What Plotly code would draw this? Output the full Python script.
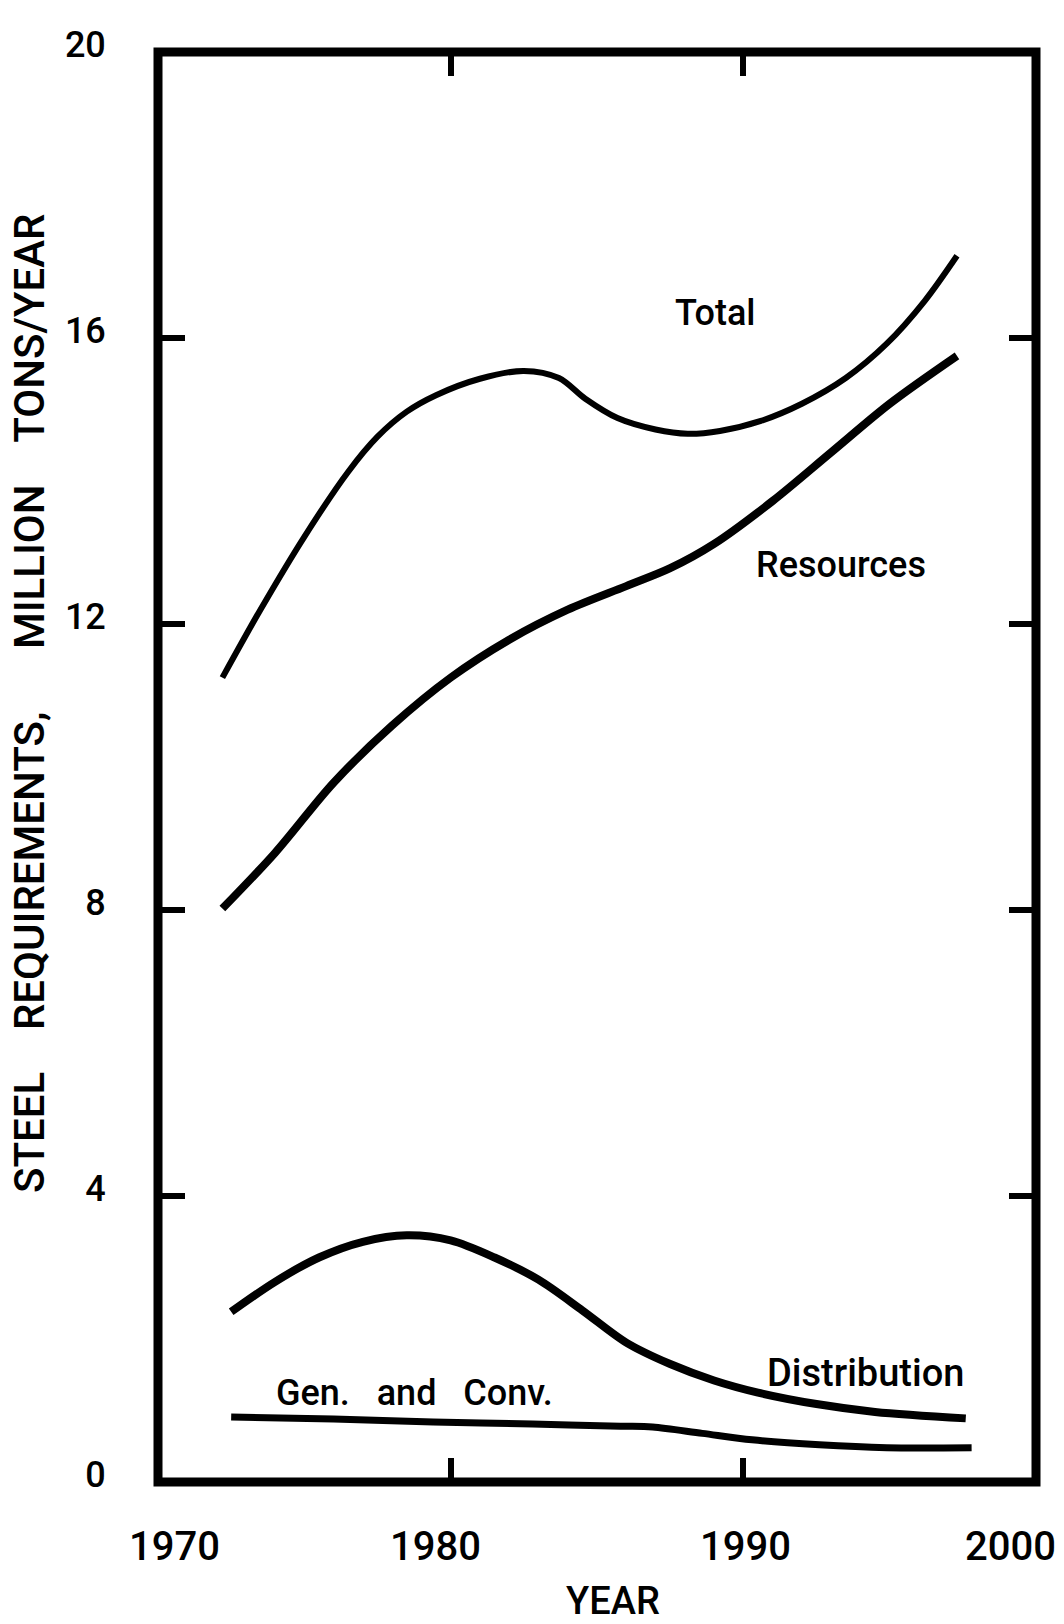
import plotly.graph_objects as go

# Steel requirements by sector, million tons per year
years_total = [1972.2, 1973.5, 1975.0, 1976.5, 1977.5, 1978.5, 1979.5, 1981.0, 1982.5, 1983.7,
               1984.6, 1985.7, 1987.0, 1988.1, 1989.2, 1990.6, 1992.0, 1993.5, 1994.9, 1996.2,
               1997.3]
total = [11.25, 12.20, 13.22, 14.13, 14.62, 14.97, 15.20, 15.43, 15.54, 15.44,
         15.15, 14.88, 14.72, 14.66, 14.70, 14.84, 15.08, 15.44, 15.92, 16.52,
         17.15]

years_resources = [1972.2, 1974.0, 1976.0, 1978.0, 1980.0, 1982.0, 1984.0, 1986.0, 1987.5,
                   1989.0, 1991.0, 1993.0, 1995.0, 1997.3]
resources = [8.02, 8.80, 9.78, 10.58, 11.25, 11.78, 12.20, 12.53, 12.78,
             13.12, 13.72, 14.40, 15.08, 15.75]

years_distribution = [1972.5, 1974.0, 1975.5, 1977.0, 1978.5, 1980.0, 1981.5, 1983.0, 1984.5,
                      1986.0, 1987.5, 1989.0, 1990.5, 1992.5, 1994.5, 1997.6]
distribution = [2.38, 2.80, 3.14, 3.36, 3.45, 3.38, 3.14, 2.83, 2.40,
                1.95, 1.65, 1.42, 1.25, 1.09, 0.98, 0.89]

years_gen = [1972.5, 1976.0, 1979.4, 1982.8, 1985.8, 1986.9, 1988.6, 1990.3, 1992.6, 1994.9, 1997.8]
gen_conv = [0.91, 0.88, 0.84, 0.81, 0.78, 0.77, 0.68, 0.59, 0.52, 0.48, 0.48]

x_ticks = [1970, 1980, 1990, 2000]
y_ticks = [0, 4, 8, 12, 16, 20]

FONT = "Roboto, Liberation Sans, Arial, sans-serif"
WEIGHT = 500
NB = "\u00a0"

W, H = 1064, 1624
L, R, T, B = 158, 28, 52, 142


def px_to_paper(px, py):
    return (px - L) / (W - L - R), (H - B - py) / (H - T - B)


def font(size):
    return dict(family=FONT, size=size, color="black", weight=WEIGHT)


series = [
    (years_total, total, 6),
    (years_resources, resources, 8),
    (years_distribution, distribution, 8),
    (years_gen, gen_conv, 7),
]

fig = go.Figure()
for xs, ys, w in series:
    fig.add_trace(go.Scatter(
        x=xs, y=ys, mode="lines",
        line=dict(color="black", width=w, shape="spline", smoothing=0.9),
        showlegend=False, hoverinfo="skip",
    ))

# curve labels
labels = [
    ("Total", 1989.06, 16.35, 36),
    ("Resources", 1993.33, 12.83, 36),
    ("Distribution", 1994.19, 1.52, 38),
    ("Gen." + NB * 3 + "and" + NB * 3 + "Conv.", 1978.75, 1.24, 36),
]
for text, x, y, size in labels:
    fig.add_annotation(x=x, y=y, xref="x", yref="y", text=text, showarrow=False,
                       xanchor="center", yanchor="middle", font=font(size))

# year labels under the axis, hand-lettered offsets
x_label_shift = {1970: 16, 1980: -15, 1990: 2, 2000: -26}
_, lab_y = px_to_paper(0, 1546)
for v in x_ticks:
    fig.add_annotation(x=v, y=lab_y, xref="x", yref="paper", text=str(v),
                       showarrow=False, xanchor="center", yanchor="middle",
                       xshift=x_label_shift[v], font=font(40))

# axis titles
sp = NB * 4
tx, ty = px_to_paper(29, 703)
fig.add_annotation(
    x=tx, y=ty, xref="paper", yref="paper",
    text="STEEL" + sp + "REQUIREMENTS," + NB * 6 + "MILLION" + sp + "TONS/YEAR",
    showarrow=False, textangle=-90, xanchor="center", yanchor="middle",
    font=font(42),
)
tx, ty = px_to_paper(613, 1601)
fig.add_annotation(
    x=tx, y=ty, xref="paper", yref="paper", text="YEAR", showarrow=False,
    xanchor="center", yanchor="middle", font=font(38),
)

# heavy frame around the plotting area
fig.add_shape(type="rect", xref="paper", yref="paper", x0=0, y0=0, x1=1, y1=1,
              line=dict(color="black", width=9), layer="above")

fig.update_xaxes(
    range=[1970, 2000], tickvals=x_ticks, showticklabels=False,
    ticks="inside", ticklen=24, tickwidth=6, tickcolor="black",
    showline=True, linecolor="black", linewidth=1, mirror="ticks",
    showgrid=False, zeroline=False,
)
fig.update_yaxes(
    range=[0, 20], tickvals=y_ticks, ticktext=[str(v) for v in y_ticks],
    ticks="inside", ticklen=27, tickwidth=6, tickcolor="black",
    showline=True, linecolor="black", linewidth=1, mirror="ticks",
    showgrid=False, zeroline=False, ticklabelstandoff=44, ticklabelshift=-8,
    tickfont=font(36),
)
fig.update_layout(
    width=W, height=H, margin=dict(l=L, r=R, t=T, b=B),
    plot_bgcolor="white", paper_bgcolor="white",
)

fig.write_html("out.html", config={"displayModeBar": False})
